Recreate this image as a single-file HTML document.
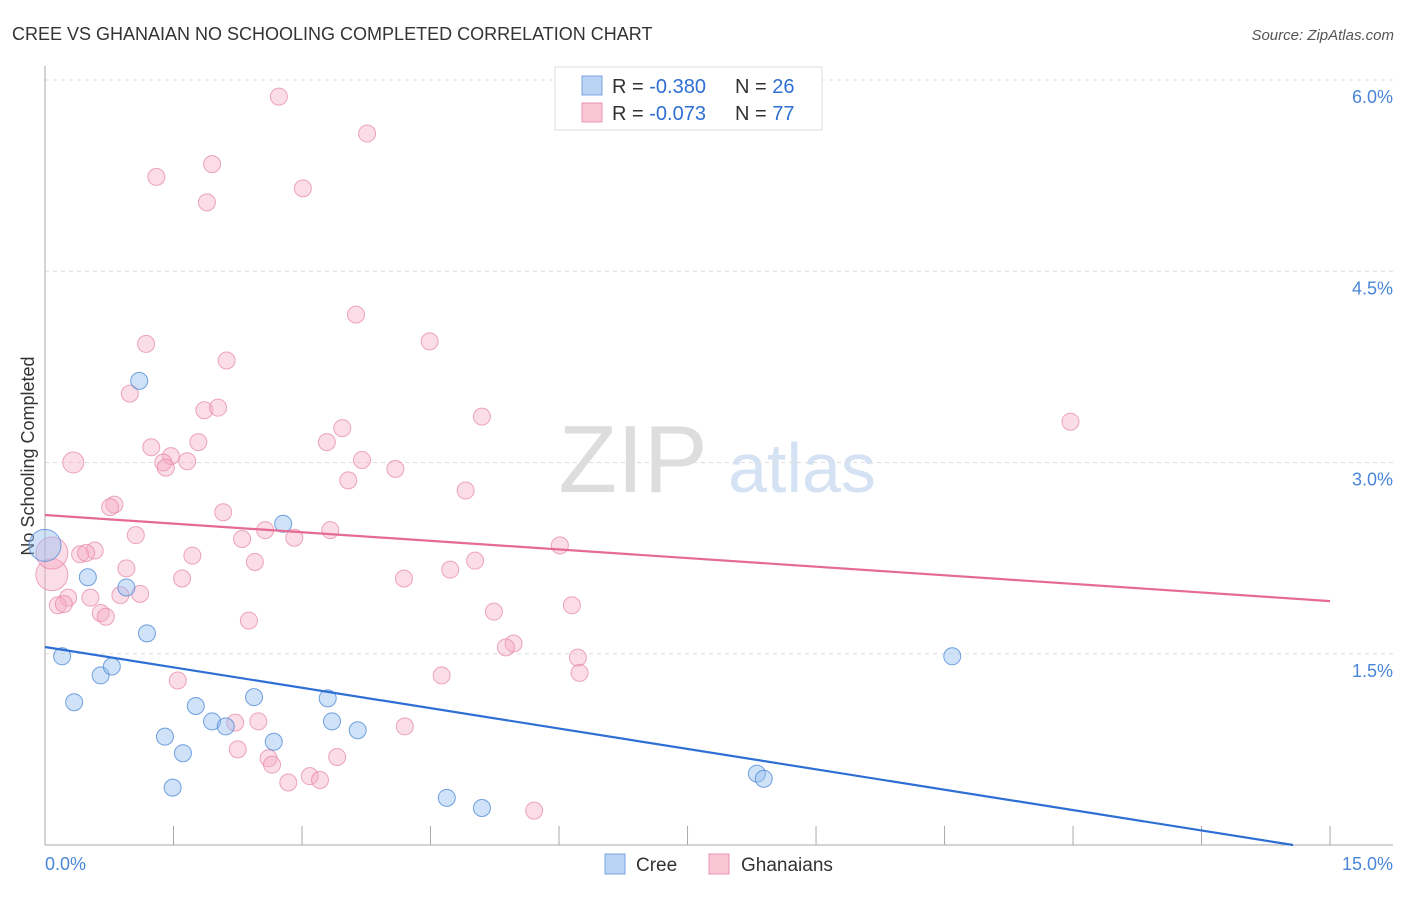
<!DOCTYPE html>
<html><head><meta charset="utf-8"><style>
body{margin:0;background:#fff;font-family:"Liberation Sans",sans-serif}
svg text{font-family:"Liberation Sans",sans-serif}
</style></head><body>
<svg id="c" width="1406" height="892">
<text x="12" y="40" font-size="18" fill="#333">CREE VS GHANAIAN NO SCHOOLING COMPLETED CORRELATION CHART</text>
<text x="1394" y="40" font-size="15" fill="#555" font-style="italic" text-anchor="end">Source: ZipAtlas.com</text>
<text x="633" y="492" font-size="96" fill="#ddd" font-family="Liberation Serif" text-anchor="middle">ZIP</text>
<text x="802" y="492" font-size="70" fill="#d4e2f4" text-anchor="middle">atlas</text>
<text transform="translate(34,456) rotate(-90)" font-size="18" fill="#333" text-anchor="middle">No Schooling Completed</text>
<g id="grid"></g><g id="pts"></g><g id="lines"></g>
<g>
<rect x="555" y="67" width="267" height="63" fill="#fff" stroke="#ddd"/>
<rect x="582" y="76" width="20" height="19" fill="#b8d3f4" stroke="#7aa6e0"/>
<rect x="582" y="103" width="20" height="19" fill="#f9c6d6" stroke="#e895b0"/>
<text x="612" y="93" font-size="20" fill="#333">R = <tspan fill="#2f6fd4">-0.380</tspan><tspan x="735">N = </tspan><tspan fill="#2f6fd4">26</tspan></text>
<text x="612" y="120" font-size="20" fill="#333">R = <tspan fill="#2f6fd4">-0.073</tspan><tspan x="735">N = </tspan><tspan fill="#2f6fd4">77</tspan></text>
</g>
<g>
<rect x="605" y="854" width="20" height="20" fill="#b8d3f4" stroke="#7aa6e0"/>
<text x="636" y="871" font-size="19" fill="#333">Cree</text>
<rect x="709" y="854" width="20" height="20" fill="#f9c6d6" stroke="#e895b0"/>
<text x="741" y="871" font-size="19" fill="#333">Ghanaians</text>
</g>
</svg>
<script>
const yTicks=[1.5,3.0,4.5,6.0];
const xTickLabels=["0.0%","15.0%"];
const creeX=[0,0.2,0.34,0.5,0.65,0.78,0.95,1.1,1.19,1.4,1.49,1.61,1.76,1.95,2.11,2.44,2.67,2.78,3.3,3.35,3.65,4.69,5.1,8.31,8.39,10.59];
const creeY=[2.35,1.48,1.12,2.1,1.33,1.4,2.02,3.64,1.66,0.85,0.45,0.72,1.09,0.97,0.93,1.16,0.81,2.52,1.15,0.97,0.9,0.37,0.29,0.56,0.52,1.48];
const ghX=[2.73,3.76,1.95,1.3,3.01,1.89,3.63,4.49,1.18,2.12,0.99,1.86,2.02,5.1,11.97,1.79,3.47,3.29,1.24,1.47,1.66,1.38,1.41,0.33,3.7,4.09,3.54,4.91,0.81,0.76,2.08,3.33,1.06,2.3,2.57,2.91,6.01,0.58,0.41,0.48,1.72,5.02,2.45,4.73,0.95,1.6,4.19,0.08,0.08,0.27,0.53,0.88,1.11,0.15,0.22,6.15,5.24,0.65,0.71,2.38,5.47,5.38,6.22,6.24,4.63,1.55,2.22,2.49,4.2,2.25,2.61,2.65,3.41,3.09,3.21,2.84,5.71];
const ghY=[5.87,5.58,5.34,5.24,5.15,5.04,4.16,3.95,3.93,3.8,3.54,3.41,3.43,3.36,3.32,3.16,3.27,3.16,3.12,3.05,3.01,3.0,2.96,3.0,3.02,2.95,2.86,2.78,2.67,2.65,2.61,2.47,2.43,2.4,2.47,2.41,2.35,2.31,2.28,2.29,2.27,2.23,2.22,2.16,2.17,2.09,2.09,2.12,2.29,1.94,1.94,1.96,1.97,1.88,1.89,1.88,1.83,1.82,1.79,1.76,1.58,1.55,1.47,1.35,1.33,1.29,0.96,0.97,0.93,0.75,0.68,0.63,0.69,0.54,0.51,0.49,0.27];
const creeBig=[0], ghBig=[47,48], ghMid=[23];
const creeFit=[1.553,-0.1066], ghFit=[2.588,-0.045];
const X=v=>45+v*85.67, Y=v=>845-v*127.5;
const NS="http://www.w3.org/2000/svg";
function mk(tag,attrs,parent){const e=document.createElementNS(NS,tag);for(const k in attrs)e.setAttribute(k,attrs[k]);parent.appendChild(e);return e;}
const grid=document.getElementById('grid');
yTicks.forEach(t=>{
 const l=mk('line',{x1:45,x2:1393,y1:Y(t),y2:Y(t),stroke:'#ddd','stroke-dasharray':'4,4'},grid);
 
 
 const tx=mk('text',{x:1393,y:Y(t)+23,'font-size':18,fill:'#4a86d8','text-anchor':'end'},grid);
 tx.textContent=t.toFixed(1)+'%';
 
 
});
let a=mk('line',{x1:45,x2:45,y1:66,y2:845,stroke:'#aaa'},grid);


a=mk('line',{x1:45,x2:1393,y1:845,y2:845,stroke:'#aaa'},grid);


for(let i=0;i<=10;i++){const t=mk('line',{x1:X(i*1.5),x2:X(i*1.5),y1:826,y2:845,stroke:'#aaa'},grid);
 
 }
let xl=mk('text',{x:45,y:870,'font-size':18,fill:'#4a86d8'},grid);xl.textContent=xTickLabels[0];


xl=mk('text',{x:1393,y:870,'font-size':18,fill:'#4a86d8','text-anchor':'end'},grid);xl.textContent=xTickLabels[1];


const pts=document.getElementById('pts');
ghX.forEach((v,i)=>{const c=mk('circle',{cx:X(v),cy:Y(ghY[i]),r:ghBig.includes(i)?16:(ghMid.includes(i)?10.5:8.5),fill:'rgba(246,170,195,0.4)',stroke:'rgba(230,130,165,0.7)','stroke-width':1},pts);
 
 });
creeX.forEach((v,i)=>{const c=mk('circle',{cx:X(v),cy:Y(creeY[i]),r:creeBig.includes(i)?16:8.5,fill:'rgba(150,190,240,0.45)',stroke:'rgba(80,140,215,0.8)','stroke-width':1},pts);
 
 });
const lines=document.getElementById('lines');
let ln=mk('line',{x1:X(0),y1:Y(ghFit[0]),x2:X(15),y2:Y(ghFit[0]+ghFit[1]*15),stroke:'#e56a94','stroke-width':2.2},lines);


const xe=-creeFit[0]/creeFit[1];
ln=mk('line',{x1:X(0),y1:Y(creeFit[0]),x2:X(xe),y2:Y(0),stroke:'#2f6fd4','stroke-width':2.2},lines);


</script>
</body></html>
